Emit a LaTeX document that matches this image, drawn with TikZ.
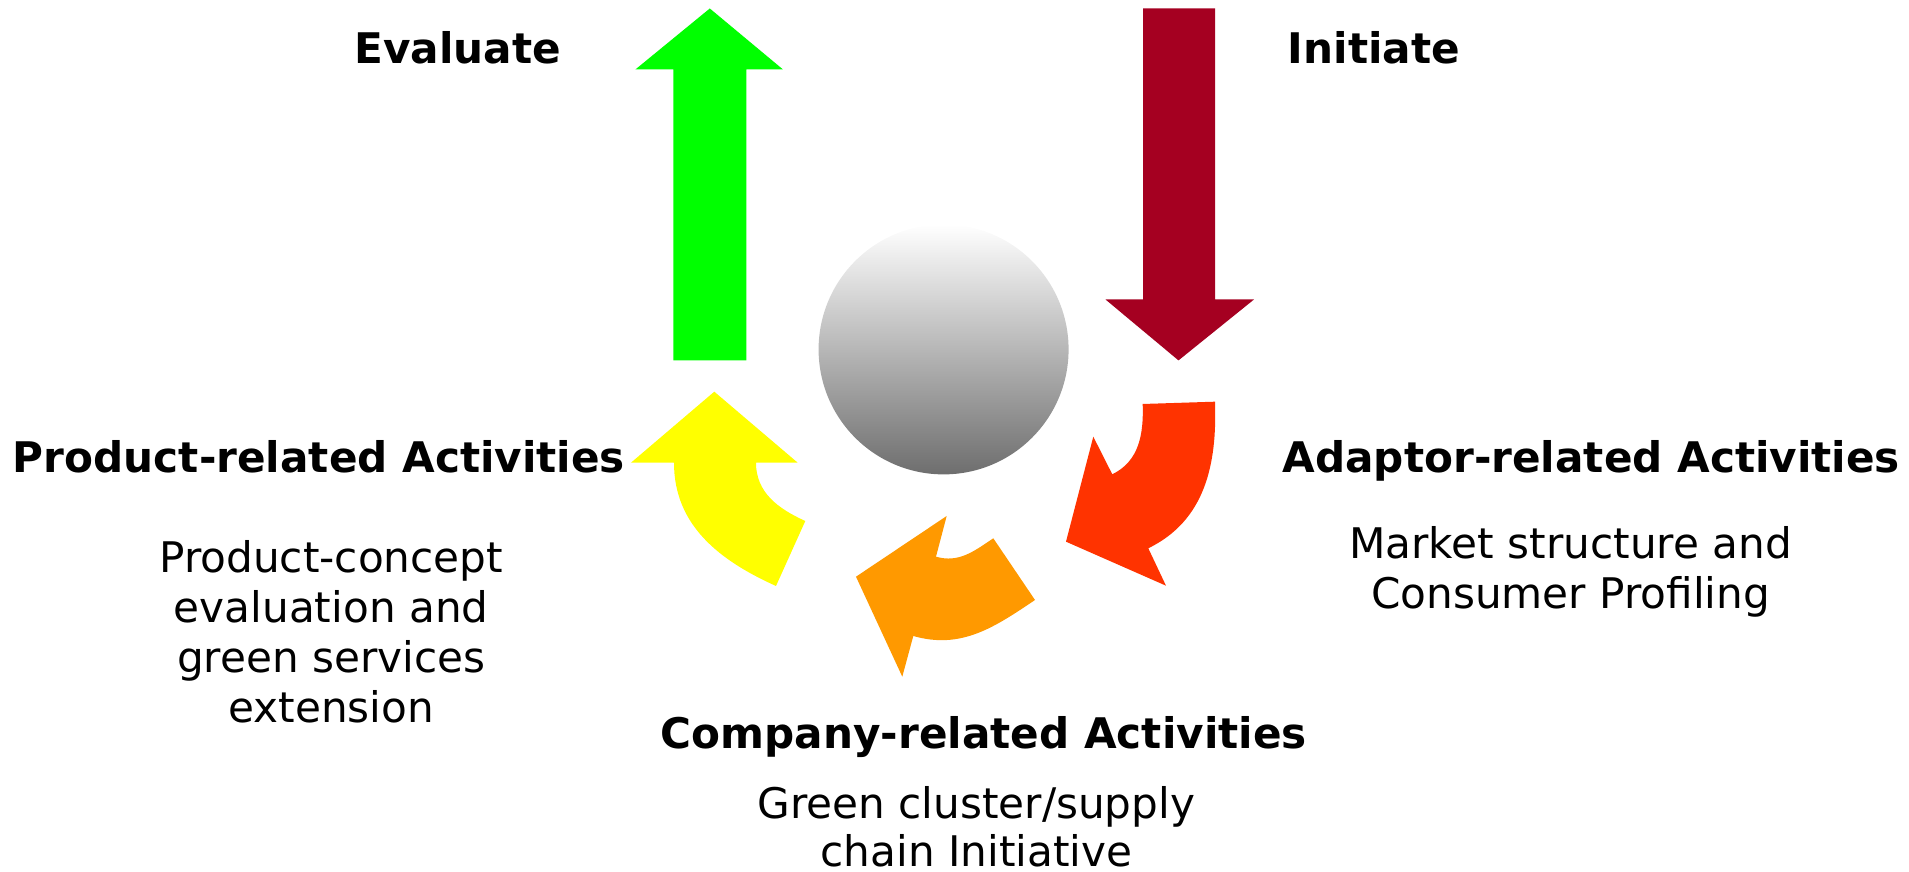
\documentclass[tikz,border=0pt]{standalone}
\usepackage{fontspec}
\setmainfont{DejaVu Sans}

\definecolor{evalgreen}{HTML}{00FF00}
\definecolor{initred}{HTML}{A50021}
\definecolor{prodyellow}{HTML}{FFFF00}
\definecolor{comporange}{HTML}{FF9900}
\definecolor{adaptred}{HTML}{FF3300}
\definecolor{hubgray}{HTML}{6E6E6E}

\tikzset{
	heading/.style={anchor=base, font=\bfseries\fontsize{12}{14}\selectfont},
	body/.style={align=center, font=\fontsize{12}{14.2}\selectfont}
}

\begin{document}
\begin{tikzpicture}[x=0.1mm, y=0.1mm]
	\useasboundingbox (-943.6,-522.6) rectangle (965.4,349.4);
	% up and down arrows
	\fill[evalgreen] (-270.3,-11) -- (-270.3,280) -- (-308.1,280) -- (-233.8,340.9)
		-- (-160.7,280) -- (-197.3,280) -- (-197.3,-11) -- cycle;
	\fill[initred] (199.6,340.9) -- (199.6,49.9) -- (161.9,49.9) -- (234.9,-11)
		-- (310.4,49.9) -- (271.5,49.9) -- (271.5,340.9) -- cycle;
	% hub
	\shade[top color=white, bottom color=hubgray] (0,0) circle (125);
	% curved arrows round the hub
	\fill[prodyellow] (-167.6,-236.6) to[out=155.7, in=-90] (-269.6,-113.3)
		-- (-312.6,-113.3) -- (-229.3,-42.3) -- (-145.9,-113.3) -- (-187.6,-113.3)
		to[out=-90, in=155.7] (-138.3,-171.6) -- cycle;
	\fill[comporange] (49.7,-188.9) -- (91.4,-250.6) to[out=214, in=-16] (-30.3,-286.6)
		-- (-41.3,-327.3) -- (-87.6,-227.3) -- (3.1,-166.6) -- (-7.6,-207.3)
		to[out=-16, in=214] cycle;
	\fill[adaptred] (199.1,-54.6) -- (271.4,-52.3) to[out=-88, in=26] (204.7,-198.9)
		-- (222.4,-236.3) -- (122.4,-192.3) -- (149.7,-87.3) -- (168.7,-124.9)
		to[out=26, in=-88] cycle;
	% labels
	\node[heading] (evaluate) at (-485.8,286.1) {Evaluate};
	\node[heading] (initiate) at (430.4,286.1) {Initiate};
	\node[heading] (product) at (-624.6,-123) {Product-related Activities};
	\node[body] (productdesc) at (-612.4,-282.5) {Product-concept\\evaluation and\\green services\\extension};
	\node[heading] (adaptor) at (647.7,-123) {Adaptor-related Activities};
	\node[body] (adaptordesc) at (627,-222.2) {Market structure and\\Consumer Profiling};
	\node[heading] (company) at (40.2,-399.4) {Company-related Activities};
	\node[body, font=\fontsize{12}{13.6}\selectfont] (companydesc) at (32.8,-477) {Green cluster/supply\\chain Initiative};
\end{tikzpicture}
\end{document}
